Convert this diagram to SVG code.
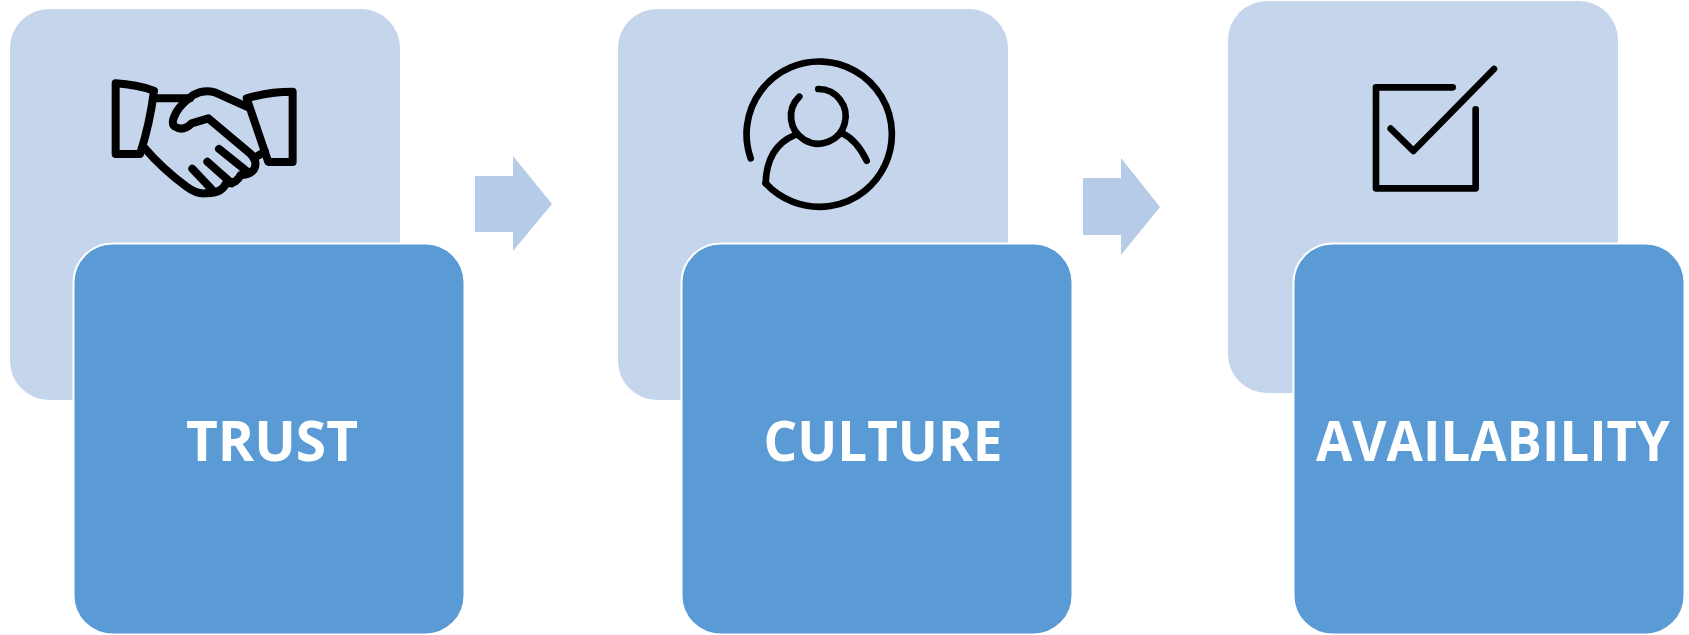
<svg xmlns="http://www.w3.org/2000/svg" width="1689" height="635" viewBox="0 0 1689 635">
<style>
.back{fill:#c5d5eb}
.front{fill:#5b9bd5;stroke:#fff;stroke-width:2}
.arrow{fill:#b5cbe8}
.label{font-family:"Open Sans","Liberation Sans",sans-serif;font-weight:700;font-size:55px;fill:#fff;text-anchor:middle}
.icon{fill:none;stroke:#000;stroke-linecap:round;stroke-linejoin:round}
</style>
<rect width="1689" height="635" fill="#fff"/>
<g id="connectors">
<polygon class="arrow" points="475,176 513,176 513,156 552,204 513,251 513,232 475,232"/>
<polygon class="arrow" points="1083,178 1121,178 1121,158 1160,207 1121,255 1121,235 1083,235"/>
</g>
<g id="trust">
<rect class="back" x="10" y="9" width="390" height="391" rx="39"/>
<rect class="front" x="73.500" y="243.500" width="391" height="391" rx="39"/>
<g class="icon" transform="translate(90,60) scale(0.3333)" stroke-width="24">
<path d="M77,70 Q140,74 192,92 Q180,190 150,282 L77,282 Z"/>
<path d="M470,115 Q535,95 608,95 L608,306 L535,306 Z"/>
<path d="M190,115 L300,115"/>
<path d="M470,140 L375,97 Q340,88 310,105 Q275,130 260,155 Q240,190 255,200 Q280,215 305,190 L355,175 L480,280 Q505,305 492,328 Q480,345 452,345 Q440,372 408,370 Q395,402 345,400 Q320,402 290,380 Q220,330 160,260"/>
<path d="M498,290 L525,275"/>
<path d="M387,267 L472,335"/>
<path d="M352,305 L425,370"/>
<path d="M307,326 L365,388"/>
</g>
<text class="label" x="272" y="461" textLength="172" lengthAdjust="spacingAndGlyphs">TRUST</text>
</g>
<g id="culture">
<rect class="back" x="618" y="9" width="390" height="391" rx="39"/>
<rect class="front" x="681.500" y="243.500" width="391" height="391" rx="39"/>
<g class="icon" transform="translate(720,50) scale(0.3333)" stroke-width="20">
<path d="M92,325 A218,218 0 1 1 137,400"/>
<path d="M295,117 A82,82 0 1 1 238,140"/>
<path d="M225,255 Q140,290 137,400"/>
<path d="M367,250 Q410,270 440,332"/>
</g>
<text class="label" x="883" y="461" textLength="239" lengthAdjust="spacingAndGlyphs">CULTURE</text>
</g>
<g id="availability">
<rect class="back" x="1228" y="1" width="390" height="392" rx="39"/>
<rect class="front" x="1293.500" y="243.500" width="391" height="391" rx="39"/>
<g class="icon" transform="translate(1340,50) scale(0.3333)" stroke-width="20">
<path d="M338,112 L108,112 L108,415 L407,415 L407,178"/>
<path d="M152,236 L220,303 L462,57"/>
</g>
<text class="label" x="1493" y="461" textLength="354" lengthAdjust="spacingAndGlyphs">AVAILABILITY</text>
</g>
</svg>
